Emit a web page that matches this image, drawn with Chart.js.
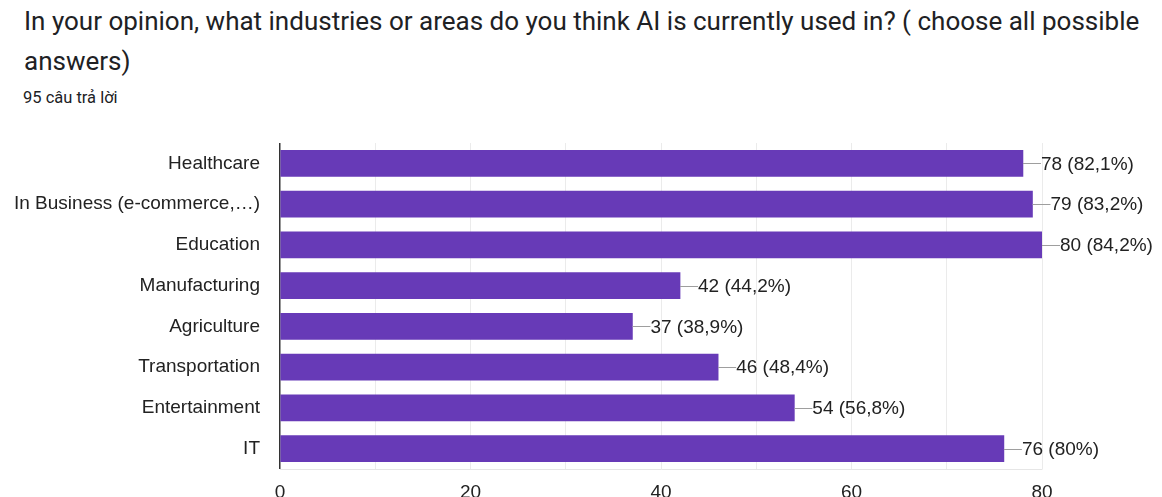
<!DOCTYPE html>
<html>
<head>
<meta charset="utf-8">
<script src="https://cdn.jsdelivr.net/npm/chart.js@4/dist/chart.umd.min.js"></script>
<style>
  html, body { margin: 0; padding: 0; background: #fff; width: 1162px; height: 497px; overflow: hidden; position: relative; }
  #title { position: absolute; left: 24px; top: 1px; width: 1136px; font-family: Roboto, "Noto Sans", sans-serif; font-size: 26px; line-height: 40px; color: #202124; }
  #sub { position: absolute; left: 23px; top: 86px; font-family: Roboto, "Noto Sans", sans-serif; font-size: 16.5px; line-height: 24px; color: #202124; }
  #wrap { position: absolute; left: 0; top: 130px; width: 1162px; height: 380px; }
</style>
</head>
<body>
<div id="title">In your opinion, what industries or areas do you think AI is currently used in? ( choose all possible answers)</div>
<div id="sub">95 câu trả lời</div>
<div id="wrap"><canvas id="c"></canvas></div>
<script>
const categories = ["Healthcare", "In Business (e-commerce,…)", "Education", "Manufacturing", "Agriculture", "Transportation", "Entertainment", "IT"];
const counts = [78, 79, 80, 42, 37, 46, 54, 76];
const percentLabels = ["82,1%", "83,2%", "84,2%", "44,2%", "38,9%", "48,4%", "56,8%", "80%"];
const xTicks = [0, 20, 40, 60, 80];

const labelFont = '19px "Liberation Sans", Arial, sans-serif';

const valueLabels = {
  id: 'valueLabels',
  afterDatasetsDraw(chart) {
    const ctx = chart.ctx;
    const meta = chart.getDatasetMeta(0);
    ctx.save();
    meta.data.forEach((bar, i) => {
      const x = bar.x, y = bar.y;
      ctx.strokeStyle = '#9e9e9e';
      ctx.lineWidth = 1;
      ctx.beginPath();
      ctx.moveTo(x, Math.round(y) + 0.5);
      ctx.lineTo(x + 18, Math.round(y) + 0.5);
      ctx.stroke();
      ctx.fillStyle = '#222222';
      ctx.font = labelFont;
      ctx.textAlign = 'left';
      ctx.textBaseline = 'middle';
      ctx.fillText(counts[i] + ' (' + percentLabels[i] + ')', x + 18, y + 1);
    });
    ctx.restore();
  }
};

new Chart(document.getElementById('c'), {
  type: 'bar',
  data: {
    labels: categories,
    datasets: [{
      data: counts,
      backgroundColor: '#673ab7',
      borderWidth: 0,
      barThickness: 26
    }]
  },
  options: {
    indexAxis: 'y',
    responsive: true,
    maintainAspectRatio: false,
    animation: false,
    layout: { padding: { top: 13, right: 120, bottom: 0, left: 0 } },
    plugins: { legend: { display: false }, tooltip: { enabled: false }, title: { display: false } },
    scales: {
      x: {
        min: 0, max: 80,
        afterFit(s) { s.height = 41; s.paddingLeft = 0; s.paddingRight = 0; },
        ticks: {
          stepSize: 10,
          autoSkip: false,
          maxRotation: 0,
          padding: 12,
          color: '#222222',
          font: { family: '"Liberation Sans", Arial, sans-serif', size: 19 },
          callback: (v) => xTicks.includes(v) ? String(v) : ''
        },
        grid: {
          drawTicks: false,
          color: (c) => (c.tick && c.tick.value === 0) ? '#333333' : '#ebebeb',
          lineWidth: (c) => (c.tick && c.tick.value === 0) ? 1.5 : 1
        },
        border: { display: true, color: '#e6e6e6' }
      },
      y: {
        afterFit(s) { s.width = 280; s.paddingTop = 0; s.paddingBottom = 0; },
        ticks: {
          padding: 20,
          color: '#222222',
          font: { family: '"Liberation Sans", Arial, sans-serif', size: 19 }
        },
        grid: { display: false, drawTicks: false },
        border: { display: false }
      }
    }
  },
  plugins: [valueLabels]
});
</script>
</body>
</html>
